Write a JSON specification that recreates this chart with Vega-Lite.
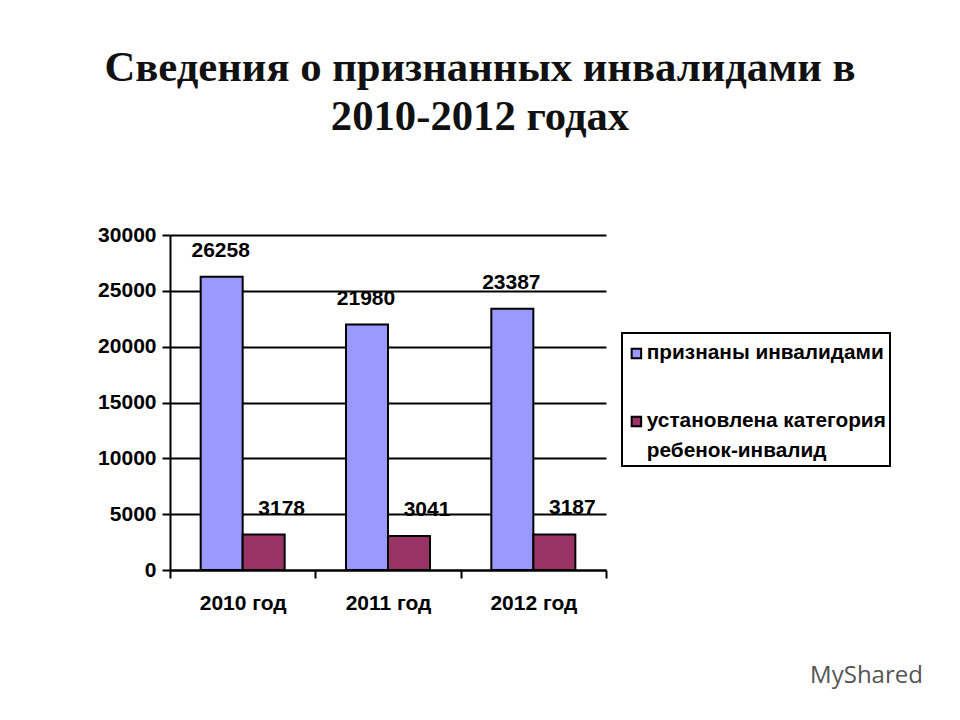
{
  "$schema": "https://vega.github.io/schema/vega-lite/v6.json",
  "width": 436,
  "height": 335,
  "autosize": "none",
  "padding": {"left": 170, "top": 235, "right": 354, "bottom": 150},
  "background": "white",
  "title": {
    "text": ["Сведения о признанных инвалидами в", "2010-2012 годах"],
    "font": "Liberation Serif",
    "fontSize": 42.7,
    "fontWeight": "bold",
    "color": "#111111",
    "lineHeight": 49,
    "anchor": "middle",
    "frame": "group",
    "dx": 92,
    "offset": 85
  },
  "data": {
    "values": [
      {"year": "2010 год", "series": "признаны инвалидами", "value": 26258},
      {"year": "2010 год", "series": "установлена категория ребенок-инвалид", "value": 3178},
      {"year": "2011 год", "series": "признаны инвалидами", "value": 21980},
      {"year": "2011 год", "series": "установлена категория ребенок-инвалид", "value": 3041},
      {"year": "2012 год", "series": "признаны инвалидами", "value": 23387},
      {"year": "2012 год", "series": "установлена категория ребенок-инвалид", "value": 3187}
    ]
  },
  "encoding": {
    "x": {
      "field": "year",
      "type": "nominal",
      "scale": {"paddingInner": 0, "paddingOuter": 0},
      "axis": {
        "title": "MyShared",
        "titleX": 696,
        "titleY": 93,
        "titleFont": "Open Sans",
        "titleFontSize": 24,
        "titleFontWeight": "normal",
        "titleColor": "#555555",
        "labelAngle": 0,
        "labelFont": "Liberation Sans",
        "labelFontSize": 21,
        "labelFontWeight": "bold",
        "labelColor": "black",
        "labelPadding": 14,
        "tickBand": "extent",
        "tickColor": "black",
        "tickWidth": 2,
        "tickSize": 8,
        "domainColor": "black",
        "domainWidth": 2
      }
    },
    "y": {
      "field": "value",
      "type": "quantitative",
      "scale": {"domain": [0, 30000]},
      "axis": {
        "title": null,
        "values": [0, 5000, 10000, 15000, 20000, 25000, 30000],
        "format": "d",
        "grid": true,
        "gridColor": "black",
        "gridWidth": 2,
        "gridOpacity": 1,
        "labelFont": "Liberation Sans",
        "labelFontSize": 21,
        "labelFontWeight": "bold",
        "labelColor": "black",
        "labelPadding": 6,
        "tickColor": "black",
        "tickWidth": 2,
        "tickSize": 8,
        "domainColor": "black",
        "domainWidth": 2
      }
    }
  },
  "layer": [
    {
      "mark": {"type": "bar", "stroke": "black", "strokeWidth": 2},
      "encoding": {
        "xOffset": {
          "field": "series",
          "type": "nominal",
          "sort": null,
          "scale": {"paddingInner": 0, "paddingOuter": 0.73}
        },
        "color": {
          "field": "series",
          "type": "nominal",
          "sort": null,
          "scale": {"range": ["#9999FF", "#993366"]},
          "legend": {
            "title": " ",
            "titleFontSize": 1,
            "titlePadding": 5,
            "orient": "none",
            "legendX": 452,
            "legendY": 98,
            "fillColor": "white",
            "strokeColor": "black",
            "padding": 4,
            "symbolType": "square",
            "symbolSize": 90,
            "symbolStrokeColor": "black",
            "symbolStrokeWidth": 2,
            "labelFont": "Liberation Sans",
            "labelFontSize": 20.8,
            "labelFontWeight": "bold",
            "labelColor": "black",
            "labelLimit": 300,
            "labelOffset": 0,
            "rowPadding": 46,
            "labelExpr": "datum.value == 'признаны инвалидами' ? datum.label : ['установлена категория', 'ребенок-инвалид']"
          }
        }
      }
    },
    {
      "transform": [{"filter": "datum.series == 'признаны инвалидами'"}],
      "mark": {
        "type": "text",
        "font": "Liberation Sans",
        "fontSize": 21,
        "fontWeight": "bold",
        "color": "black",
        "dx": -22,
        "dy": -26
      },
      "encoding": {"text": {"field": "value", "type": "quantitative", "format": "d"}}
    },
    {
      "transform": [{"filter": "datum.series != 'признаны инвалидами'"}],
      "mark": {
        "type": "text",
        "font": "Liberation Sans",
        "fontSize": 21,
        "fontWeight": "bold",
        "color": "black",
        "dx": 39,
        "dy": -26
      },
      "encoding": {"text": {"field": "value", "type": "quantitative", "format": "d"}}
    }
  ],
  "config": {
    "view": {"stroke": null},
    "legend": {"strokeWidth": 2},
    "style": {"guide-label": {"lineHeight": 30}}
  }
}
